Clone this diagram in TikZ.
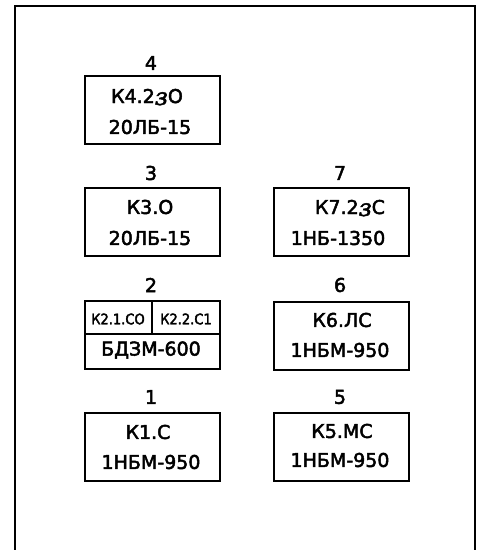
\documentclass[tikz,border=0pt]{standalone}
\usepackage{fontspec}
\setmainfont{DejaVu Sans}[FakeBold=2.5]
\newfontfamily\condfont{DejaVu Sans Condensed}[FakeBold=2.5]
\newfontfamily\scrfont{DejaVu Serif}[FakeBold=2]
\newcommand{\zz}{\raisebox{-2pt}{\scrfont\itshape\fontsize{24}{24}\selectfont з}}
\begin{document}
\begin{tikzpicture}[x=1pt,y=-1pt,
  frameline/.style={line width=1.6pt},
  boxline/.style={line width=1.6pt},
  unitbox/.style={draw,boxline,minimum width=135pt,minimum height=68pt,inner sep=0pt,anchor=north west},
  numlabel/.style={font=\fontsize{19}{19}\selectfont,inner sep=0pt},
  txt/.style={font=\fontsize{19}{19}\selectfont,inner sep=0pt},
  smalltxt/.style={font=\condfont\fontsize{14.5}{14.5}\selectfont,inner sep=0pt}
]
\useasboundingbox[fill=white] (0,0) rectangle (479,550);
\draw[frameline] (15,552) -- (15,6) -- (475,6) -- (475,552);

% left column
\node[unitbox] (b4) at (84,75) {};
\node[numlabel] (n4) at (151,63) {4};
\node[txt,anchor=base] (t4a) at (147,103) {К4.2\zz О};
\node[txt] (t4b) at (150,127) {20ЛБ-15};

\node[unitbox] (b3) at (84,187) {};
\node[numlabel] (n3) at (151,173) {3};
\node[txt] (t3a) at (150,207) {К3.О};
\node[txt] (t3b) at (150,238) {20ЛБ-15};

\node[unitbox] (b2) at (84,300) {};
\node[numlabel] (n2) at (151,285) {2};
\coordinate (d2l) at (84,334);
\coordinate (d2r) at (219,334);
\coordinate (v2t) at (152,300);
\coordinate (v2b) at (152,334);
\draw[boxline] (d2l) -- (d2r);
\draw[boxline] (v2t) -- (v2b);
\node[smalltxt] (t2a) at (118,319) {К2.1.СО};
\node[smalltxt] (t2b) at (186,319) {К2.2.С1};
\node[txt] (t2c) at (151,350) {БДЗМ-600};

\node[unitbox] (b1) at (84,412) {};
\node[numlabel] (n1) at (151,397) {1};
\node[txt] (t1a) at (148,432) {К1.С};
\node[txt] (t1b) at (151,462) {1НБМ-950};

% right column
\node[unitbox] (b7) at (273,187) {};
\node[numlabel] (n7) at (340,173) {7};
\node[txt,anchor=base] (t7a) at (350,214) {К7.2\zz С};
\node[txt] (t7b) at (338,238) {1НБ-1350};

\node[unitbox] (b6) at (273,301) {};
\node[numlabel] (n6) at (340,285) {6};
\node[txt] (t6a) at (342,320) {К6.ЛС};
\node[txt] (t6b) at (340,350) {1НБМ-950};

\node[unitbox] (b5) at (273,412) {};
\node[numlabel] (n5) at (340,397) {5};
\node[txt] (t5a) at (342,431) {К5.МС};
\node[txt] (t5b) at (340,460) {1НБМ-950};
\end{tikzpicture}
\end{document}
